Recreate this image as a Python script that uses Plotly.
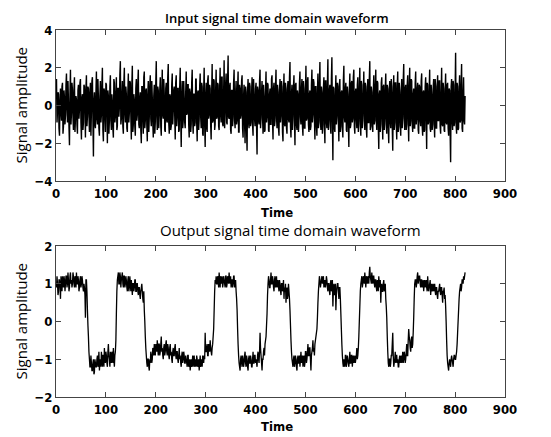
import plotly.graph_objects as go

# time index 1..820
time = list(range(1, 821))

input_signal = [
    1.4, -0.9, -0.3, 0.7, 0.6, -1.2, -1.6, 0.3, 0.9, -0.4, -0.8, 1.0, 1.2, -1.5, -1.1, 0.8, 0.4, -1.0, -0.5, 1.1,
    1.7, -0.2, -0.9, 1.3, 0.2, -1.1, -2.1, 0.6, 1.9, -1.0, -0.4, 1.2, 0.8, -0.6, -1.3, 0.9, 1.5, -1.4, -0.7, 0.5,
    0.3, -1.0, -1.5, 0.8, 1.1, -0.7, -0.2, 1.2, 1.4, -0.9, -1.8, 0.4, 0.6, -1.3, -0.9, 1.1, 1.0, -0.3, -1.7, 0.9,
    1.6, -1.1, -0.6, 1.0, 0.9, -0.5, -1.4, 0.7, 1.2, -1.6, -0.3, 1.3, 1.5, -0.8, -2.7, 0.2, 0.7, -1.0, -1.2, 0.6,
    1.8, -0.7, -1.0, 1.4, 0.4, -1.2, -1.6, 0.5, 1.3, -0.9, -0.5, 1.1, 2.0, -1.3, -1.9, 0.9, 0.8, -0.6, -1.4, 1.2,
    1.1, -0.4, -2.0, 0.8, 0.5, -1.5, -0.8, 1.0, 1.6, -0.8, -1.3, 0.6, 0.2, -1.2, -1.7, 1.4, 1.2, -0.9, -0.6, 0.7,
    1.5, -1.3, -1.1, 0.9, 0.9, -0.6, -0.1, 1.6, 2.35, -1.0, -0.7, 0.5, 1.3, -1.1, -1.5, 1.2, 2.0, -0.4, -0.9, 1.0,
    0.6, -1.2, -1.4, 0.7, 1.7, -0.9, -0.4, 1.3, 1.2, -0.5, -1.8, 1.1, 2.1, -1.4, -1.0, 0.6, 0.3, -1.1, -1.6, 0.9,
    1.4, -0.8, -0.5, 1.2, 1.9, -1.0, -1.2, 0.4, 0.7, -1.3, -2.0, 1.0, 1.0, -0.7, -1.5, 1.5, 1.8, -1.2, -0.8, 0.8,
    0.9, -1.0, -1.9, 0.6, 1.3, -1.4, -0.6, 1.1, 1.6, -0.7, -1.1, 1.3, 0.4, -0.9, -1.7, 0.5, 1.1, -1.5, -0.9, 1.2,
    2.35, -0.6, -1.3, 1.0, 0.8, -1.2, -0.5, 0.8, 1.5, -1.1, -1.6, 0.7, 1.9, -0.5, -0.7, 1.4, 0.6, -1.3, -1.4, 0.9,
    1.2, -0.8, -0.9, 1.5, 2.2, -0.9, -1.5, 0.6, 0.5, -1.3, -1.1, 1.1, 1.7, -1.0, -0.3, 0.8, 1.0, -0.6, -1.8, 1.2,
    1.6, -1.1, -0.6, 0.9, 0.9, -1.4, -1.3, 1.0, 2.0, -0.7, -2.2, 0.5, 1.3, -1.2, -0.8, 1.3, 0.4, -0.9, -1.2, 0.7,
    1.8, -0.5, -0.4, 1.1, 1.1, -1.0, -1.7, 0.9, 0.7, -1.4, -1.0, 1.2, 1.9, -0.8, -1.5, 0.6, 0.6, -1.1, -0.9, 1.4,
    1.4, -0.9, -1.9, 0.7, 0.8, -1.3, -0.7, 1.0, 1.7, -0.6, -1.2, 1.2, 1.0, -1.5, -1.6, 0.8, 2.0, -1.0, -2.2, 0.5,
    1.2, -1.2, -1.4, 1.3, 1.6, -0.7, -0.5, 1.1, 0.9, -1.0, -1.8, 0.6, 2.2, -0.9, -0.8, 1.4, 1.3, -1.3, -1.0, 0.8,
    1.9, -0.7, -0.6, 1.2, 1.1, -1.1, -1.3, 0.9, 2.0, -0.5, -0.9, 1.5, 1.5, -1.0, -1.1, 0.7, 2.4, -1.2, -0.4, 1.1,
    1.7, -0.9, -1.0, 1.4, 2.65, -0.6, -0.7, 1.0, 1.2, -1.3, -1.5, 0.8, 0.8, -1.1, -0.6, 1.2, 1.9, -0.8, -1.2, 0.6,
    1.3, -1.0, -0.8, 0.9, 1.8, -1.4, -1.4, 1.1, 0.9, -0.7, -0.5, 1.3, 1.6, -1.2, -1.7, 0.5, 1.1, -0.9, -2.0, 1.0,
    0.7, -1.3, -2.4, 0.8, 1.4, -0.9, -1.2, 1.2, 1.0, -1.1, -0.9, 0.6, 1.5, -1.0, -1.6, 1.4, 0.6, -0.7, -1.1, 0.9,
    1.2, -1.1, -2.6, 1.0, 0.8, -0.8, -1.0, 1.3, 1.9, -1.2, -0.7, 0.7, 1.3, -0.6, -1.5, 1.1, 0.5, -1.4, -1.3, 0.8,
    1.8, -0.9, -0.6, 1.2, 1.1, -1.3, -1.4, 0.6, 0.9, -1.0, -1.0, 1.4, 1.6, -0.8, -1.8, 0.9, 1.2, -1.1, -0.8, 1.0,
    1.9, -0.6, -1.2, 1.1, 0.7, -1.2, -1.6, 0.8, 1.4, -0.9, -0.5, 1.3, 1.0, -1.4, -1.9, 0.7, 1.7, -1.0, -1.1, 1.2,
    0.8, -1.2, -1.5, 0.9, 1.3, -0.7, -0.9, 1.5, 2.3, -1.1, -1.7, 0.6, 1.1, -1.3, -0.6, 1.0, 1.6, -0.8, -2.1, 1.1,
    1.2, -1.0, -1.3, 0.8, 0.6, -1.4, -0.8, 1.2, 1.8, -0.6, -1.0, 0.9, 1.4, -1.1, -1.6, 1.3, 0.9, -1.2, -1.2, 0.7,
    2.1, -0.8, -0.7, 1.3, 1.5, -1.0, -1.4, 0.6, 0.8, -1.3, -1.1, 1.1, 1.9, -0.9, -0.5, 1.4, 1.2, -0.7, -1.8, 1.0,
    1.0, -1.1, -1.6, 0.7, 1.7, -1.2, -0.9, 1.2, 2.3, -0.8, -1.3, 1.0, 0.7, -1.5, -1.0, 0.9, 1.5, -1.0, -2.0, 1.3,
    1.3, -0.9, -1.2, 1.1, 2.45, -1.3, -0.8, 0.8, 1.1, -1.1, -1.5, 1.4, 2.55, -0.7, -2.9, 1.0, 0.9, -1.2, -1.4, 0.6,
    1.6, -1.0, -0.6, 1.2, 1.0, -0.8, -1.9, 1.1, 1.4, -1.4, -1.1, 0.7, 0.8, -1.1, -1.7, 1.3, 2.1, -0.6, -0.9, 0.9,
    1.2, -1.3, -1.4, 1.0, 0.6, -1.0, -2.2, 0.8, 1.7, -1.2, -1.0, 1.2, 1.3, -0.9, -0.7, 1.5, 1.9, -1.1, -1.5, 0.7,
    0.9, -0.7, -1.2, 1.1, 1.5, -1.4, -0.8, 0.9, 2.0, -1.0, -1.6, 1.3, 1.1, -1.2, -0.5, 0.6, 1.8, -0.8, -1.3, 1.2,
    1.0, -1.2, -1.7, 0.8, 1.4, -0.9, -0.9, 1.4, 2.35, -1.3, -1.1, 1.0, 0.7, -1.1, -1.4, 0.7, 1.6, -1.0, -0.8, 1.1,
    1.9, -0.8, -1.3, 1.3, 1.2, -1.1, -2.3, 0.6, 0.8, -1.4, -1.0, 1.2, 1.5, -0.7, -1.8, 1.0, 1.1, -1.3, -0.7, 0.9,
    1.7, -1.0, -1.5, 1.1, 0.9, -1.2, -2.0, 0.8, 1.3, -0.9, -1.2, 1.4, 1.0, -1.1, -2.4, 0.7, 1.6, -1.3, -0.9, 1.2,
    1.2, -0.9, -1.8, 1.0, 1.8, -1.4, -1.1, 1.2, 0.7, -1.0, -1.6, 0.8, 1.4, -1.2, -0.6, 1.3, 2.2, -0.7, -1.3, 0.9,
    1.1, -1.3, -1.0, 1.1, 1.6, -0.8, -1.9, 1.0, 2.0, -1.1, -0.8, 1.4, 1.3, -1.0, -1.4, 0.6, 0.9, -1.2, -1.2, 1.2,
    1.8, -1.0, -0.7, 0.9, 1.2, -1.3, -1.5, 1.1, 1.0, -0.8, -1.1, 1.3, 1.7, -1.1, -1.6, 0.7, 0.8, -1.4, -1.3, 1.0,
    1.5, -0.7, -2.3, 1.2, 1.1, -1.0, -0.9, 0.8, 1.9, -1.2, -1.4, 1.1, 0.6, -1.3, -1.0, 0.9, 1.4, -0.9, -1.7, 1.4,
    1.0, -1.2, -1.2, 1.0, 1.6, -0.8, -0.8, 1.3, 1.3, -1.1, -1.5, 0.6, 2.0, -1.0, -1.1, 1.2, 0.9, -1.3, -1.4, 0.8,
    1.7, -0.9, -1.0, 1.1, 1.2, -1.2, -1.6, 0.9, 0.8, -1.4, -3.0, 1.0, 1.4, -0.8, -1.3, 1.3, 1.1, -1.1, -0.9, 0.7,
    2.8, -1.0, -1.5, 1.2, 1.0, -1.3, -1.2, 0.8, 1.6, -0.9, -0.8, 1.1, 2.2, -1.2, -1.4, 0.6, 1.5, -0.8, -1.0, 0.5,
]

output_signal = [
    0.9, 1.2, 1.0, 0.7, 0.8, 1.1, 1.1, 0.9, 0.6, 1.2, 1.0, 0.8, 1.2, 1.0, 0.9, 1.2, 1.1, 0.8, 1.0, 1.2,
    1.2, 0.9, 1.0, 1.3, 1.1, 0.8, 0.9, 1.2, 1.3, 1.0, 1.1, 0.9, 1.0, 1.3, 1.2, 1.0, 0.9, 1.2, 1.1, 0.9,
    1.3, 1.0, 1.0, 1.2, 1.1, 0.8, 0.9, 1.1, 1.2, 0.9, 1.0, 1.2, 1.1, 0.9, 0.8, 1.0, 0.9, 0.7, 0.1, 1.1,
    1.1, 0.8, 0.3, -0.1, -0.4, -0.8, -1.0, -1.2, -1.2, -0.9, -1.1, -1.3, -1.3, -1.1, -1.0, -1.4, -1.35, -1.0, -1.1, -1.2,
    -1.2, -1.0, -0.9, -1.2, -1.1, -0.8, -1.3, -1.1, -1.0, -1.2, -0.8, -1.0, -1.2, -0.9, -0.9, -1.2, -0.7, -1.0, -1.1, -0.8,
    -0.9, -1.1, -1.2, -0.8, -0.6, -0.9, -1.0, -1.2, -0.8, -1.0, -1.1, -0.8, -0.9, -1.1, -0.7, -1.0, -1.2, -0.9, -0.8, -0.5,
    0.2, 0.8, 1.1, 1.2, 1.3, 1.0, 1.0, 1.3, 1.2, 0.9, 1.1, 1.2, 1.3, 1.0, 0.9, 1.2, 1.2, 0.9, 1.0, 1.2,
    1.1, 0.9, 0.8, 1.1, 1.2, 0.8, 0.9, 1.2, 1.0, 0.8, 1.1, 0.9, 0.7, 1.0, 1.0, 0.8, 0.9, 1.1, 1.1, 0.8,
    0.8, 1.0, 1.0, 0.8, 0.7, 0.9, 0.9, 0.7, 0.6, 0.8, 0.9, 1.0, 0.8, 0.6, 0.5, 0.8, 0.3, 0.0, -0.4, -0.7,
    -0.9, -1.1, -1.2, -1.0, -1.0, -1.2, -1.3, -1.0, -1.1, -0.8, -0.9, -1.1, -1.0, -0.7, -0.8, -0.9, -0.6, -0.8, -0.9, -0.6,
    -0.7, -0.8, -0.5, -0.7, -0.9, -0.6, -0.6, -0.9, -0.8, -0.6, -0.4, -0.8, -0.7, -0.9, -1.0, -0.7, -0.6, -0.9, -0.8, -0.6,
    -0.5, -0.8, -0.9, -0.6, -0.7, -0.9, -1.0, -0.7, -0.6, -0.9, -0.8, -1.0, -1.1, -0.8, -0.7, -0.9, -0.9, -0.7, -0.6, -0.9,
    -1.0, -0.8, -0.8, -1.0, -1.1, -0.9, -0.7, -1.0, -0.9, -1.1, -1.2, -0.9, -0.8, -1.1, -1.0, -0.8, -0.9, -1.1, -1.1, -0.9,
    -1.0, -1.1, -1.2, -0.9, -0.9, -1.2, -1.1, -1.0, -1.3, -1.1, -1.0, -1.2, -1.1, -0.9, -1.2, -1.0, -0.9, -1.2, -1.1, -1.0,
    -1.2, -0.9, -1.0, -1.2, -1.1, -1.0, -1.3, -1.1, -0.9, -1.2, -1.1, -1.0, -1.2, -0.9, -1.0, -1.1, -0.9, -1.0, -0.3, -0.8,
    -0.8, -0.7, -0.6, -0.9, -0.9, -0.6, -0.7, -0.8, -0.5, -0.7, -0.8, -0.9, -0.7, -0.6, -0.4, -0.2, 0.3, 0.8, 1.1, 1.0,
    1.2, 1.0, 1.0, 1.2, 1.1, 0.9, 1.3, 1.1, 0.9, 1.2, 1.1, 1.0, 1.2, 0.9, 1.0, 1.2, 1.1, 1.0, 0.9, 1.2,
    1.2, 0.9, 1.0, 1.2, 1.1, 1.0, 1.3, 1.1, 1.0, 1.2, 0.9, 1.1, 1.1, 0.9, 1.0, 1.2, 1.2, 0.9, 1.0, 1.1,
    0.8, 0.6, 0.3, -0.2, -0.6, -0.9, -1.1, -1.2, -1.3, -1.0, -0.9, -1.1, -1.2, -0.9, -1.0, -1.2, -1.1, -0.9, -0.8, -1.1,
    -1.2, -0.9, -1.0, -1.2, -1.3, -1.0, -0.9, -1.1, -1.1, -0.9, -1.0, -1.2, -1.2, -1.0, -0.8, -1.1, -1.1, -0.9, -0.9, -1.1,
    -1.0, -1.1, -1.2, -0.9, -0.8, -1.0, -1.1, -0.8, -0.3, -0.7, -0.9, -1.1, -1.3, -1.0, -1.0, -0.8, -0.7, -0.9, -0.6, -0.5,
    -0.4, -0.1, 0.2, 0.7, 1.0, 1.2, 1.1, 0.9, 0.9, 1.1, 1.3, 1.0, 1.0, 1.2, 1.1, 0.9, 0.8, 1.1, 1.2, 0.9,
    1.0, 1.2, 0.9, 1.0, 1.1, 0.9, 0.8, 1.1, 1.0, 0.8, 0.7, 1.0, 1.0, 0.8, 0.9, 1.1, 0.6, 0.9, 0.8, 1.0,
    0.5, 0.8, 0.9, 0.6, 0.7, 1.0, 0.8, 0.6, 0.3, -0.1, -0.5, -0.8, -1.0, -1.1, -1.2, -1.0, -0.9, -1.2, -1.1, -0.9,
    -1.0, -1.2, -1.3, -1.0, -0.9, -1.1, -1.1, -0.9, -1.2, -1.0, -0.8, -1.1, -1.0, -0.9, -1.2, -1.0, -0.9, -1.2, -1.1, -0.8,
    -0.8, -1.1, -1.0, -0.8, -0.6, -0.9, -0.9, -0.7, -0.7, -1.0, -1.3, -0.9, -0.8, -0.7, -0.5, -0.8, -0.7, -0.9, -0.6, -0.5,
    -0.4, -0.3, -0.2, 0.1, 0.5, 0.8, 1.0, 1.2, 1.1, 0.9, 1.0, 1.1, 1.2, 1.0, 1.1, 1.2, 0.9, 1.0, 1.1, 0.9,
    1.0, 1.2, 1.1, 0.9, 0.8, 1.0, 1.0, 0.8, 0.7, 1.0, 1.1, 0.8, 0.9, 1.1, 0.4, 0.8, 1.0, 0.7, 0.8, 1.0,
    0.3, 0.7, 0.9, 1.0, 1.0, 0.8, 0.6, 0.9, 0.9, 0.6, 0.2, -0.2, -0.6, -0.9, -1.1, -1.2, -1.0, -1.1, -1.2, -0.9,
    -0.9, -1.2, -1.1, -0.9, -1.0, -1.1, -1.2, -1.0, -0.8, -1.1, -1.1, -0.9, -0.9, -1.2, -1.0, -0.9, -1.1, -1.0, -0.9, -1.1,
    -1.0, -0.9, -0.7, -1.0, -0.9, -0.7, -0.4, 0.0, 0.4, 0.8, 1.0, 1.1, 1.2, 0.9, 1.0, 1.2, 1.1, 1.0, 1.3, 1.1,
    0.9, 1.2, 1.1, 1.0, 1.2, 1.1, 1.0, 1.3, 1.45, 1.2, 1.1, 1.0, 1.3, 1.1, 1.0, 1.2, 1.2, 1.0, 0.9, 1.1,
    1.1, 0.9, 0.8, 1.1, 1.0, 0.8, 1.2, 1.0, 0.9, 1.1, 0.5, 0.9, 1.0, 0.8, 0.8, 1.0, 1.1, 0.8, 0.9, 1.0,
    0.6, 0.4, 0.1, -0.4, -0.8, -1.1, -1.2, -1.0, -1.0, -1.2, -1.1, -0.9, -0.9, -0.6, -0.3, -0.9, -1.2, -1.1, -1.0, -0.8,
    -1.1, -0.9, -0.9, -1.1, -1.0, -1.2, -1.2, -1.0, -0.9, -1.1, -1.0, -0.9, -1.1, -1.0, -0.8, -1.1, -1.0, -0.8, -0.9, -1.1,
    -1.0, -0.8, -0.6, -0.9, -0.9, -0.5, -0.2, -0.4, -0.5, -0.7, -0.8, -0.5, -0.4, -0.7, -0.6, -0.3, 0.1, 0.6, 1.0, 1.1,
    1.1, 0.9, 1.0, 1.2, 1.3, 1.0, 1.1, 1.2, 1.2, 1.0, 0.9, 1.1, 1.1, 0.9, 1.0, 1.1, 0.8, 1.0, 1.1, 0.9,
    1.0, 1.1, 0.9, 0.8, 1.2, 1.0, 0.8, 0.9, 1.0, 1.1, 0.7, 0.9, 1.0, 0.8, 0.9, 1.0, 0.8, 0.9, 1.0, 0.8,
    0.7, 0.9, 0.9, 0.7, 0.6, 0.8, 0.8, 0.9, 1.0, 0.8, 0.7, 0.9, 0.9, 0.7, 0.5, 0.8, 0.8, 0.9, 0.6, 0.7,
    0.4, 0.0, -0.5, -0.9, -1.1, -1.2, -1.3, -1.1, -1.0, -1.1, -1.2, -1.0, -0.9, -1.0, -1.1, -1.2, -1.0, -0.9, -0.9, -1.0,
    -1.0, -0.9, -0.8, -0.6, -0.3, 0.0, 0.3, 0.6, 0.8, 0.9, 1.0, 0.8, 0.9, 1.1, 1.1, 1.0, 1.2, 1.1, 1.2, 1.3,
]

x_ticks = [0, 100, 200, 300, 400, 500, 600, 700, 800, 900]
y1_ticks = [-4, -2, 0, 2, 4]
y2_ticks = [-2, -1, 0, 1, 2]

titles = ["Input signal time domain waveform", "Output signal time domain waveform"]
x_label = "Time"
y_label = "Signal amplitude"

# the page body has an 8px margin, so the figure is drawn 8px in from the window edges
OFF = 8
W, H = 551 - OFF, 437 - OFF
ML = 56 - OFF           # plot left edge at window x=56
MR = W - (505 - OFF)    # plot right edge at window x=505
MT = 30 - OFF           # top plot starts at window y=30
MB = H - (397 - OFF)    # bottom plot ends at window y=397
PH = H - MT - MB
PW = W - ML - MR

def py(p):
    """window y pixel -> paper y"""
    return (H - MB - (p - OFF)) / PH

def px(p):
    """window x pixel -> paper x"""
    return ((p - OFF) - ML) / PW

tick_font = dict(family="DejaVu Sans Condensed, Liberation Sans Narrow, sans-serif",
                 size=13, color="black", weight="bold")
lab_font = dict(family="Open Sans, DejaVu Sans, sans-serif", size=15, color="black")

fig = go.Figure()
fig.add_trace(go.Scatter(x=time, y=input_signal, mode="lines",
                         line=dict(color="black", width=1.4, simplify=False),
                         xaxis="x", yaxis="y", showlegend=False))
fig.add_trace(go.Scatter(x=time, y=output_signal, mode="lines",
                         line=dict(color="black", width=1.3, simplify=False),
                         xaxis="x2", yaxis="y2", showlegend=False))

axis_common = dict(showgrid=False, zeroline=False, showline=True, linecolor="#444", linewidth=1,
                   mirror="ticks", ticks="inside", ticklen=5, tickcolor="#444",
                   tickfont=tick_font, automargin=False)

def label(text, x, y, font, angle=0):
    return dict(text=text, xref="paper", yref="paper", x=px(x), y=py(y),
                xanchor="center", yanchor="middle", textangle=angle,
                showarrow=False, font=font)

fig.update_layout(
    width=W, height=H,
    margin=dict(l=ML, r=MR, t=MT, b=MB, autoexpand=False),
    paper_bgcolor="white", plot_bgcolor="white",
    xaxis=dict(domain=[0, 1], range=[0, 900], tickvals=x_ticks, anchor="y", **axis_common),
    yaxis=dict(domain=[py(181), 1], range=[-4, 4], tickvals=y1_ticks, anchor="x", **axis_common),
    xaxis2=dict(domain=[0, 1], range=[0, 900], tickvals=x_ticks, anchor="y2", **axis_common),
    yaxis2=dict(domain=[0, py(246)], range=[-2, 2], tickvals=y2_ticks, anchor="x2", **axis_common),
    annotations=[
        label(titles[0], 277, 17.5,
              dict(family="Open Sans, DejaVu Sans, sans-serif", size=13, color="black", weight=600)),
        label(titles[1], 290, 230,
              dict(family="Open Sans, DejaVu Sans, sans-serif", size=15, color="black")),
        label(x_label, 277, 212, tick_font),
        label(x_label, 277, 426, tick_font),
        label(y_label, 20, 105.5, lab_font, -90),
        label(y_label, 20, 321.5, lab_font, -90),
    ],
)

fig.write_html("out.html")
